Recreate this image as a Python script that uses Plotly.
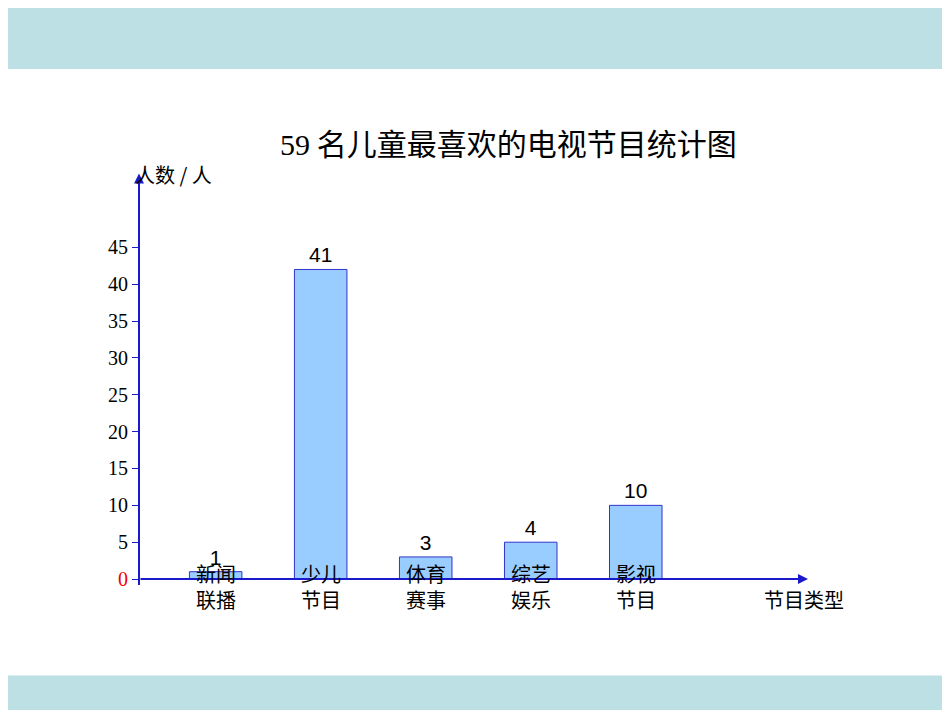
import plotly.graph_objects as go

categories = ["新闻<br>联播", "少儿<br>节目", "体育<br>赛事", "综艺<br>娱乐", "影视<br>节目"]
bar_heights = [1, 42, 3, 5, 10]
bar_labels = ["1", "41", "3", "4", "10"]
y_ticks = [0, 5, 10, 15, 20, 25, 30, 35, 40, 45]

W, H = 950, 713
blue = "#1a1acc"
xpos = list(range(len(categories)))

fig = go.Figure()
fig.add_trace(go.Bar(
    x=xpos, y=bar_heights, width=0.5,
    marker=dict(color="#99ccff", line=dict(color="#3333cc", width=1)),
    text=bar_labels, textposition="outside", cliponaxis=False,
    textfont=dict(family="Liberation Sans", size=21, color="black"),
))

tick_text = ['<span style="color:#ee0000">0</span>'] + [str(v) for v in y_ticks[1:]]

fig.update_layout(
    width=W, height=H, margin=dict(l=0, r=0, t=0, b=0),
    paper_bgcolor="white", plot_bgcolor="white", showlegend=False,
    xaxis=dict(domain=[131 / W, 800 / W], range=[-0.73, 5.64], showgrid=False,
               showticklabels=False, zeroline=False, showline=False),
    yaxis=dict(domain=[1 - 580 / H, 1 - 172 / H], range=[0, 54.5], showgrid=False,
               zeroline=False, showline=False, tickvals=y_ticks, ticktext=tick_text,
               ticks="outside", ticklen=6, tickcolor=blue,
               tickfont=dict(family="Liberation Serif", size=20, color="black")),
    font=dict(family="Noto Sans CJK SC"),
)

# header / footer bands
fig.add_shape(type="rect", xref="paper", yref="paper", x0=0, x1=1, y0=1 - 62 / H, y1=1,
              fillcolor="#bde0e4", line_width=0, layer="below")
fig.add_shape(type="rect", xref="paper", yref="paper", x0=0, x1=1, y0=0, y1=35 / H,
              fillcolor="#bde0e4", line_width=0, layer="below")

# axes with arrows
fig.add_annotation(x=800 / W, y=1 - 580 / H, ax=-669, ay=0, xref="paper", yref="paper",
                   axref="pixel", ayref="pixel", showarrow=True, arrowhead=2, arrowsize=1,
                   arrowwidth=2, arrowcolor=blue, text="")
fig.add_annotation(x=131 / W, y=1 - 168 / H, ax=0, ay=413, xref="paper", yref="paper",
                   axref="pixel", ayref="pixel", showarrow=True, arrowhead=2, arrowsize=1,
                   arrowwidth=2, arrowcolor=blue, text="")

for i, c in enumerate(categories):
    fig.add_annotation(x=i, y=1 - 618 / H, xref="x", yref="paper", text=c, showarrow=False,
                       font=dict(size=20, color="black"), align="center")

fig.add_annotation(x=500 / W, y=1 - 112 / H, xref="paper", yref="paper", showarrow=False,
                   text="<span style='font-family:Liberation Serif'>59</span> 名儿童最喜欢的电视节目统计图",
                   font=dict(size=30, color="black"))
fig.add_annotation(x=125 / W, y=1 - 152 / H, xref="paper", yref="paper", showarrow=False,
                   text="人数 / 人", font=dict(size=20, color="black"))
fig.add_annotation(x=838 / W, y=1 - 618 / H, xref="paper", yref="paper", showarrow=False,
                   text="节目类型", font=dict(size=20, color="black"))

fig.write_html("out.html")
